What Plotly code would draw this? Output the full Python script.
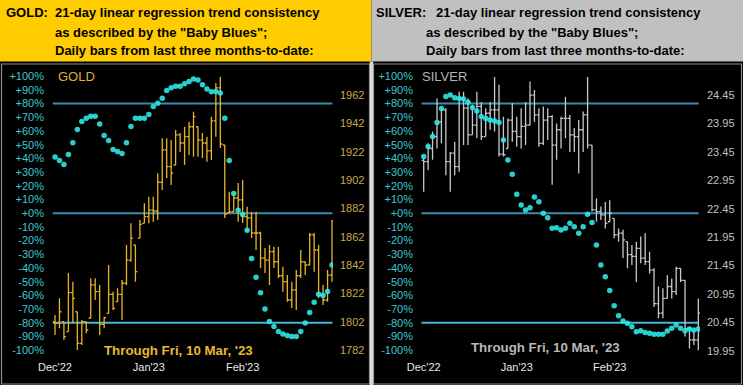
import plotly.graph_objects as go

W, H = 743, 385

# ---------------- data ----------------
months = ["Dec'22", "Jan'23", "Feb'23"]
month_pos = [0, 21, 42]

gold_open = [1802.0, 1800.8, 1802.0, 1795.0, 1822.5, 1809.0, 1786.7, 1802.0, 1804.4, 1827.9,
             1823.2, 1800.1, 1807.9, 1821.3, 1816.1, 1821.3, 1829.1, 1845.5, 1856.1, 1860.9,
             1871.4, 1876.1, 1880.8, 1880.1, 1900.4, 1923.2, 1911.4, 1912.6, 1933.8, 1928.1,
             1932.6, 1939.6, 1939.6, 1930.2, 1928.1, 1922.5, 1943.7, 1967.0, 1926.7, 1878.7,
             1879.6, 1889.3, 1887.9, 1876.1, 1875.2, 1864.6, 1864.6, 1846.9, 1845.5, 1851.4,
             1844.3, 1834.4, 1830.2, 1817.3, 1824.4, 1834.4, 1844.3, 1842.0, 1863.2, 1852.6,
             1820.8, 1817.3, 1834.9]
gold_high = [1806.7, 1818.5, 1802.0, 1836.4, 1830.2, 1809.0, 1803.2, 1802.0, 1832.6, 1832.6,
             1827.9, 1805.5, 1842.0, 1823.2, 1825.6, 1831.4, 1856.1, 1871.4, 1856.1, 1873.8,
             1885.6, 1890.2, 1890.2, 1906.7, 1931.4, 1931.4, 1930.2, 1937.3, 1935.2, 1939.6,
             1943.2, 1950.2, 1939.6, 1935.2, 1932.6, 1946.7, 1970.5, 1974.9, 1926.7, 1893.7,
             1893.7, 1899.9, 1902.0, 1883.2, 1879.6, 1879.6, 1865.5, 1854.0, 1856.1, 1854.9,
             1854.9, 1840.8, 1834.9, 1830.2, 1838.5, 1852.6, 1844.3, 1864.6, 1864.6, 1856.1,
             1827.9, 1838.5, 1873.8]
gold_low = [1792.6, 1797.3, 1789.1, 1795.0, 1801.1, 1782.0, 1785.5, 1793.8, 1804.4, 1817.3,
            1792.6, 1797.3, 1807.9, 1810.2, 1816.1, 1803.2, 1827.9, 1844.3, 1830.2, 1860.9,
            1871.4, 1871.4, 1872.6, 1873.8, 1894.9, 1903.4, 1898.5, 1912.6, 1921.8, 1912.6,
            1919.6, 1918.4, 1918.4, 1917.5, 1914.9, 1916.1, 1932.6, 1924.6, 1875.2, 1878.7,
            1879.6, 1872.6, 1871.6, 1865.5, 1861.1, 1852.6, 1839.9, 1836.4, 1827.9, 1839.9,
            1832.8, 1823.2, 1816.1, 1811.6, 1810.2, 1832.8, 1834.9, 1842.0, 1837.3, 1818.7,
            1813.8, 1816.1, 1830.2]
gold_close = [1800.8, 1809.0, 1791.4, 1822.5, 1818.5, 1786.7, 1802.0, 1796.1, 1827.9, 1823.2,
              1800.1, 1804.8, 1821.3, 1811.4, 1821.3, 1829.1, 1845.5, 1860.9, 1837.3, 1870.7,
              1876.1, 1880.8, 1880.1, 1900.4, 1923.2, 1911.4, 1906.9, 1933.8, 1928.1, 1932.6,
              1939.6, 1946.7, 1930.2, 1928.1, 1922.5, 1943.7, 1967.0, 1927.4, 1878.0, 1879.6,
              1889.3, 1887.9, 1876.1, 1875.2, 1864.6, 1864.6, 1846.9, 1845.5, 1851.4, 1844.3,
              1834.4, 1830.2, 1817.3, 1824.4, 1834.4, 1844.3, 1842.0, 1863.2, 1852.6, 1820.8,
              1817.3, 1834.9, 1873.1]
gold_trend = [41.0, 38.5, 35.6, 42.9, 51.4, 61.1, 66.9, 69.3, 70.8, 70.8,
              65.2, 56.7, 53.1, 46.5, 45.1, 43.6, 51.4, 63.3, 69.3, 69.3,
              69.3, 72.0, 77.8, 80.2, 83.9, 89.5, 91.6, 92.6, 92.6, 94.5,
              96.2, 98.0, 97.2, 93.8, 90.7, 88.7, 88.9, 87.8, 69.3, 38.5,
              14.3, 2.2, -1.0, -12.4, -33.0, -46.8, -58.0, -70.0, -79.0, -82.7,
              -86.3, -88.2, -89.2, -90.0, -90.0, -86.3, -80.2, -72.5, -65.0, -59.1,
              -60.1, -57.2, -37.8]

silver_open = [23.30, 23.28, 23.51, 23.72, 23.98, 24.19, 23.28, 23.43, 23.19, 24.39,
               24.22, 23.75, 23.92, 24.25, 23.72, 24.13, 24.19, 24.19, 23.41, 23.51,
               24.01, 23.81, 23.72, 23.90, 23.92, 24.45, 24.10, 23.60, 24.01, 24.07,
               23.57, 23.84, 24.04, 24.04, 23.75, 23.72, 23.84, 24.10, 23.57, 22.43,
               22.40, 22.34, 22.22, 22.28, 21.99, 22.02, 21.87, 21.64, 21.61, 21.75,
               21.58, 21.52, 21.37, 20.78, 20.61, 20.87, 21.08, 20.99, 21.40, 21.19,
               20.34, 20.14, 20.14]
silver_high = [23.37, 23.60, 23.81, 24.39, 24.22, 24.22, 23.45, 23.63, 24.51, 24.51,
               24.39, 24.28, 24.51, 24.33, 24.22, 24.33, 24.77, 24.63, 24.07, 24.04,
               24.31, 24.07, 24.22, 24.33, 24.69, 24.54, 24.22, 24.25, 24.22, 24.10,
               23.95, 24.07, 24.42, 24.10, 23.87, 24.01, 24.16, 24.77, 23.57, 22.63,
               22.49, 22.57, 22.60, 22.28, 22.10, 22.08, 21.87, 21.81, 21.87, 21.96,
               22.02, 21.69, 21.40, 21.08, 21.05, 21.28, 21.22, 21.43, 21.40, 21.19,
               20.37, 20.31, 20.87]
silver_low = [22.75, 23.13, 23.31, 23.51, 23.60, 23.04, 22.75, 23.04, 23.10, 23.57,
              23.57, 23.75, 23.69, 23.66, 23.72, 23.84, 23.81, 23.37, 23.37, 23.51,
              23.63, 23.54, 23.51, 23.57, 23.92, 23.98, 23.54, 23.57, 23.66, 22.87,
              23.31, 23.51, 23.69, 23.45, 23.45, 23.07, 23.45, 23.51, 22.40, 22.22,
              22.25, 22.10, 22.22, 21.93, 21.87, 21.58, 21.40, 21.46, 21.16, 21.49,
              21.46, 21.31, 20.72, 20.52, 20.52, 20.87, 20.87, 20.93, 21.16, 20.20,
              19.99, 20.05, 19.96]
silver_close = [23.28, 23.51, 23.72, 23.98, 24.19, 23.28, 23.43, 23.19, 24.39, 24.22,
                23.75, 23.92, 24.25, 23.72, 24.13, 24.19, 24.19, 23.41, 23.40, 24.01,
                23.81, 23.72, 23.90, 23.92, 24.45, 24.10, 23.60, 24.01, 24.07, 23.57,
                23.84, 24.04, 24.04, 23.75, 23.72, 23.84, 24.10, 23.57, 22.43, 22.40,
                22.34, 22.19, 22.37, 21.99, 22.02, 21.90, 21.64, 21.61, 21.75, 21.58,
                21.52, 21.37, 20.78, 20.61, 20.87, 21.08, 20.99, 21.40, 21.19, 20.34,
                20.14, 20.14, 20.61]
silver_trend = [41.3, 48.6, 55.9, 66.3, 76.5, 85.1, 86.3, 84.3, 83.8, 83.4,
                80.9, 77.0, 74.6, 70.5, 69.2, 68.0, 67.3, 66.3, 53.4, 38.8,
                28.4, 13.8, 6.0, 2.3, 4.0, 11.8, 8.4, -0.1, -3.3, -11.0,
                -10.6, -12.3, -11.0, -7.4, -9.8, -14.7, -9.8, -0.8, -6.7, -23.2,
                -37.8, -46.3, -56.5, -67.5, -74.8, -78.7, -80.4, -82.8, -86.5, -85.8,
                -87.0, -87.7, -88.4, -88.4, -88.4, -86.0, -84.0, -81.6, -84.0, -85.8,
                -84.6, -85.3, -84.6]

pct_ticks = list(range(-100, 101, 10))
pct_labels = [("+%d%%" % v) if v >= 0 else ("%d%%" % v) for v in pct_ticks]
gold_ticks = [1782, 1802, 1822, 1842, 1862, 1882, 1902, 1922, 1942, 1962]
silver_ticks = [19.95, 20.45, 20.95, 21.45, 21.95, 22.45, 22.95, 23.45, 23.95, 24.45]
silver_tick_text = ["%.2f" % v for v in silver_ticks]
levels = [80, 0, -80]

# ---------------- style ----------------
FONT = "Arial, Liberation Sans, sans-serif"
GOLD_BAR = "#E6B42A"
SILVER_BAR = "#C8C8C8"
DOT = "#2EE6E6"
PCT_TXT = "#3CC8D0"
LINE_A = "#3A8CB0"
LINE_B = "#44B8DA"


def px(x):
    return x / W


def py(y):
    return 1 - y / H


x_idx = list(range(len(gold_close)))

fig = go.Figure()

fig.add_trace(go.Ohlc(x=x_idx, open=gold_open, high=gold_high, low=gold_low, close=gold_close,
                      xaxis="x", yaxis="y", tickwidth=0.45, hoverinfo="skip",
                      increasing=dict(line=dict(color=GOLD_BAR, width=1.3)),
                      decreasing=dict(line=dict(color=GOLD_BAR, width=1.3)), showlegend=False))
fig.add_trace(go.Scatter(x=x_idx, y=gold_trend, mode="markers", xaxis="x", yaxis="y2",
                         marker=dict(color=DOT, size=5.5, opacity=0.9, line=dict(width=0)),
                         hoverinfo="skip", showlegend=False))
fig.add_trace(go.Ohlc(x=x_idx, open=silver_open, high=silver_high, low=silver_low, close=silver_close,
                      xaxis="x2", yaxis="y3", tickwidth=0.45, hoverinfo="skip",
                      increasing=dict(line=dict(color=SILVER_BAR, width=1.3)),
                      decreasing=dict(line=dict(color=SILVER_BAR, width=1.3)), showlegend=False))
fig.add_trace(go.Scatter(x=x_idx, y=silver_trend, mode="markers", xaxis="x2", yaxis="y4",
                         marker=dict(color=DOT, size=5.5, opacity=0.9, line=dict(width=0)),
                         hoverinfo="skip", showlegend=False))

ydom = [py(356), py(66)]
pct_range = [-104.23, 107.45]

common_x = dict(showgrid=False, zeroline=False, showline=False, ticks="", automargin=False,
                tickvals=month_pos, ticktext=months,
                tickfont=dict(family=FONT, size=11, color="#E8E8E8"),
                rangeslider=dict(visible=False), fixedrange=True, ticklabelstandoff=3)
common_y = dict(ticks="", showgrid=False, zeroline=False, showline=False, automargin=False,
                fixedrange=True)

fig.update_layout(
    template="none",
    width=W, height=H, autosize=False,
    margin=dict(l=0, r=0, t=0, b=0, pad=0),
    paper_bgcolor="#000000", plot_bgcolor="rgba(0,0,0,0)",
    showlegend=False,
    xaxis=dict(domain=[px(52), px(333)], range=[-0.67, 62.22], anchor="y", **common_x),
    xaxis2=dict(domain=[px(421), px(700)], range=[-0.61, 62.38], anchor="y3", **common_x),
    yaxis=dict(domain=ydom, range=[1777.76, 1982.47], side="right", anchor="x",
               tickvals=gold_ticks,
               tickfont=dict(family=FONT, size=11, color="#C8A850"), ticklabelstandoff=6,
               **common_y),
    yaxis2=dict(range=pct_range, overlaying="y", side="left", anchor="x",
                tickvals=pct_ticks, ticktext=pct_labels,
                tickfont=dict(family=FONT, size=11, color=PCT_TXT), ticklabelstandoff=7,
                **common_y),
    yaxis3=dict(domain=ydom, range=[19.857, 24.962], side="right", anchor="x2",
                tickvals=silver_ticks, ticktext=silver_tick_text,
                tickfont=dict(family=FONT, size=11, color="#C0C0C0"), ticklabelstandoff=6,
                **common_y),
    yaxis4=dict(range=pct_range, overlaying="y3", side="left", anchor="x2",
                tickvals=pct_ticks, ticktext=pct_labels,
                tickfont=dict(family=FONT, size=11, color=PCT_TXT), ticklabelstandoff=7,
                **common_y),
)

shapes = []
# headers
shapes.append(dict(type="rect", xref="paper", yref="paper", x0=0, x1=px(371.5), y0=py(61.5), y1=1,
                   fillcolor="#FFCC00", line=dict(width=0), layer="below"))
shapes.append(dict(type="rect", xref="paper", yref="paper", x0=px(371.5), x1=1, y0=py(61.5), y1=1,
                   fillcolor="#C0C0C0", line=dict(width=0), layer="below"))
# panel borders
shapes.append(dict(type="rect", xref="paper", yref="paper", x0=px(1.5), x1=px(369.5), y0=py(384), y1=py(64),
                   fillcolor="rgba(0,0,0,0)", line=dict(color="#8C8C8C", width=1.2), layer="below"))
shapes.append(dict(type="rect", xref="paper", yref="paper", x0=px(373.5), x1=px(741.5), y0=py(384), y1=py(64),
                   fillcolor="rgba(0,0,0,0)", line=dict(color="#8C8C8C", width=1.2), layer="below"))
shapes.append(dict(type="rect", xref="paper", yref="paper", x0=px(369.8), x1=px(373.2), y0=0, y1=py(61.5),
                   fillcolor="#D8D8D8", line=dict(width=0), layer="below"))
# level lines
for xr, yr in (("x", "y2"), ("x2", "y4")):
    for lv in levels:
        shapes.append(dict(type="line", xref=xr, yref=yr, x0=-0.5, x1=62.1, y0=lv, y1=lv,
                           line=dict(color=LINE_B if lv == -80 else LINE_A, width=2), layer="below"))
fig.update_layout(shapes=shapes)

ann = []


def txt(x, y, s, size=12, color="#000000", bold=True, xanchor="left"):
    ann.append(dict(xref="paper", yref="paper", x=px(x), y=py(y), text=("<b>%s</b>" % s) if bold else s,
                    showarrow=False, xanchor=xanchor, yanchor="middle",
                    font=dict(family=FONT, size=size, color=color)))


HS = 13
txt(4, 12, "GOLD:", size=HS)
txt(53, 12, "21-day linear regression trend consistency", size=HS)
txt(53, 32, 'as described by the "Baby Blues";', size=HS)
txt(53, 51, "Daily bars from last three months-to-date:", size=HS)
txt(374, 12, "SILVER:", size=HS)
txt(434, 12, "21-day linear regression trend consistency", size=HS)
txt(424, 32, 'as described by the "Baby Blues";', size=HS)
txt(424, 51, "Daily bars from last three months-to-date:", size=HS)

txt(56, 77, "GOLD", size=13, color="#E0B030", bold=False)
txt(420, 77, "SILVER", size=13, color="#B4B4B4", bold=False)
txt(178.5, 350, "Through Fri, 10 Mar, '23", size=13.3, color="#E8B830", xanchor="center")
txt(545, 347, "Through Fri, 10 Mar, '23", size=13.3, color="#B8B8B8", xanchor="center")

fig.update_layout(annotations=ann)

fig.write_html("out.html", config={"displayModeBar": False, "staticPlot": True},
               post_script="document.body.style.margin='0px';document.body.style.padding='0px';")
